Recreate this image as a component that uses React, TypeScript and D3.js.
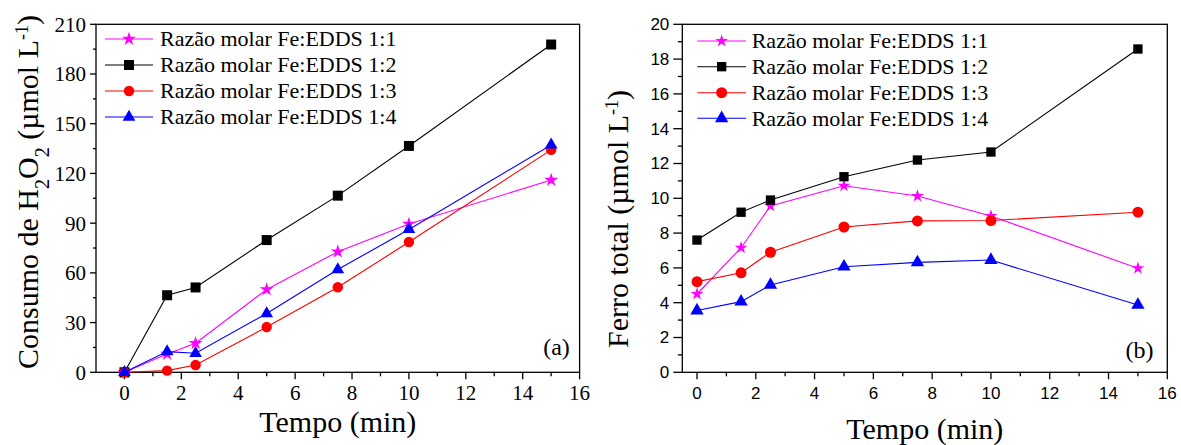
import React from "react";
import * as d3 from "d3";

const times = [0, 1.5, 2.5, 5, 7.5, 10, 15];
const seriesNames = [
  "Razão molar Fe:EDDS 1:1",
  "Razão molar Fe:EDDS 1:2",
  "Razão molar Fe:EDDS 1:3",
  "Razão molar Fe:EDDS 1:4",
];
const seriesColors = ["#FF00FF", "#000000", "#FF0000", "#0000FF"];
const seriesSymbols = ["star", "square", "circle", "triangle"];

// Panel (a): Consumo de H2O2 (µmol L-1)
const h2o2_11 = [0, 11, 17.5, 50, 72.8, 89.5, 116];
const h2o2_12 = [0, 46.5, 51.2, 79.8, 106.6, 136.6, 197.8];
const h2o2_13 = [0, 1, 4.4, 27.3, 51.3, 78.6, 134.2];
const h2o2_14 = [0, 12.5, 11.5, 35.5, 62, 86.2, 137.2];

// Panel (b): Ferro total (µmol L-1)
const fe_11 = [4.5, 7.16, 9.56, 10.72, 10.13, 8.98, 5.98];
const fe_12 = [7.6, 9.2, 9.9, 11.24, 12.2, 12.66, 18.58];
const fe_13 = [5.21, 5.72, 6.9, 8.35, 8.7, 8.72, 9.2];
const fe_14 = [3.55, 4.06, 5.02, 6.07, 6.32, 6.45, 3.87];

const xTicksMajor = [0, 2, 4, 6, 8, 10, 12, 14, 16];
const xTicksMinor = [-1, 1, 3, 5, 7, 9, 11, 13, 15];
const yTicksA = [0, 30, 60, 90, 120, 150, 180, 210];
const yTicksAMinor = [15, 45, 75, 105, 135, 165, 195];
const yTicksB = [0, 2, 4, 6, 8, 10, 12, 14, 16, 18, 20];
const yTicksBMinor = [1, 3, 5, 7, 9, 11, 13, 15, 17, 19];

const SERIF = "'Liberation Serif', 'Times New Roman', serif";
const SANS = "'Liberation Sans', Arial, sans-serif";

function symbolPath(kind: string, size: number) {
  const t =
    kind === "star"
      ? d3.symbolStar
      : kind === "square"
      ? d3.symbolSquare
      : kind === "circle"
      ? d3.symbolCircle
      : d3.symbolTriangle;
  return d3.symbol().type(t).size(size)()!;
}

type PanelProps = {
  left: number;
  right: number;
  top: number;
  bottom: number;
  xDomain: [number, number];
  yDomain: [number, number];
  yTicks: number[];
  yTicksMinor: number[];
  data: number[][];
  sizes: Record<string, number>;
  tickFont: string;
  tickSize: number;
  yTickLen: number;
  yLabelGap: number;
  xLabelY: number;
  legend: { lineX0: number; lineX1: number; textX: number; rows: number[] };
  tag: string;
  tagX: number;
  tagY: number;
  xTitleY: number;
  yTitle: React.ReactNode;
  yTitleX: number;
  yTitleY: number;
};

function Panel(p: PanelProps) {
  const x = d3.scaleLinear().domain(p.xDomain).range([p.left, p.right]);
  const y = d3.scaleLinear().domain(p.yDomain).range([p.bottom, p.top]);
  const line = d3
    .line<number>()
    .x((_, i) => x(times[i]))
    .y((d) => y(d));
  return (
    <g>
      <rect
        x={p.left}
        y={p.top}
        width={p.right - p.left}
        height={p.bottom - p.top}
        fill="none"
        stroke="#000"
        strokeWidth={1.3}
      />
      {xTicksMajor.map((t) => (
        <g key={"xm" + t}>
          <line x1={x(t)} x2={x(t)} y1={p.bottom} y2={p.bottom + 7} stroke="#000" strokeWidth={1.3} />
          <text
            x={x(t)}
            y={p.xLabelY}
            textAnchor="middle"
            fontFamily={p.tickFont}
            fontSize={p.tickSize}
          >
            {t}
          </text>
        </g>
      ))}
      {xTicksMinor
        .filter((t) => t > p.xDomain[0])
        .map((t) => (
          <line key={"xn" + t} x1={x(t)} x2={x(t)} y1={p.bottom} y2={p.bottom + 4} stroke="#000" strokeWidth={1.3} />
        ))}
      {p.yTicks.map((t) => (
        <g key={"ym" + t}>
          <line x1={p.left - p.yTickLen} x2={p.left} y1={y(t)} y2={y(t)} stroke="#000" strokeWidth={1.3} />
          <text
            x={p.left - p.yTickLen - p.yLabelGap}
            y={y(t)}
            dy="0.35em"
            textAnchor="end"
            fontFamily={p.tickFont}
            fontSize={p.tickSize}
          >
            {t}
          </text>
        </g>
      ))}
      {p.yTicksMinor.map((t) => (
        <line key={"yn" + t} x1={p.left - p.yTickLen / 2} x2={p.left} y1={y(t)} y2={y(t)} stroke="#000" strokeWidth={1.3} />
      ))}
      {p.data.map((vals, si) => (
        <g key={"s" + si}>
          <path d={line(vals)!} fill="none" stroke={seriesColors[si]} strokeWidth={1.1} />
          {vals.map((v, i) => (
            <path
              key={i}
              d={symbolPath(seriesSymbols[si], p.sizes[seriesSymbols[si]])}
              transform={`translate(${x(times[i])},${y(v)})`}
              fill={seriesColors[si]}
            />
          ))}
        </g>
      ))}
      {seriesNames.map((name, si) => {
        const ry = p.legend.rows[si];
        return (
          <g key={"l" + si}>
            <line x1={p.legend.lineX0} x2={p.legend.lineX1} y1={ry} y2={ry} stroke={seriesColors[si]} strokeWidth={1.1} />
            <path
              d={symbolPath(seriesSymbols[si], p.sizes[seriesSymbols[si]])}
              transform={`translate(${(p.legend.lineX0 + p.legend.lineX1) / 2},${ry})`}
              fill={seriesColors[si]}
            />
            <text x={p.legend.textX} y={ry} dy="0.33em" fontFamily={SERIF} fontSize={22}>
              {name}
            </text>
          </g>
        );
      })}
      <text x={p.tagX} y={p.tagY} textAnchor="middle" fontFamily={SERIF} fontSize={24}>
        {p.tag}
      </text>
      <text
        x={(p.left + p.right) / 2}
        y={p.xTitleY}
        textAnchor="middle"
        fontFamily={SERIF}
        fontSize={30}
      >
        Tempo (min)
      </text>
      <text
        transform={`translate(${p.yTitleX},${p.yTitleY}) rotate(-90)`}
        textAnchor="middle"
        fontFamily={SERIF}
        fontSize={30}
      >
        {p.yTitle}
      </text>
    </g>
  );
}

export default function App() {
  return (
    <svg
      width={1181}
      height={445}
      style={{ position: "absolute", left: 0, top: 0, background: "#fff" }}
    >
      <rect width={1181} height={445} fill="#fff" />
      <Panel
        left={96}
        right={579.6}
        top={24.3}
        bottom={372.3}
        xDomain={[-1, 16]}
        yDomain={[0, 210]}
        yTicks={yTicksA}
        yTicksMinor={yTicksAMinor}
        data={[h2o2_11, h2o2_12, h2o2_13, h2o2_14]}
        sizes={{ star: 60, square: 100, circle: 85, triangle: 70 }}
        tickFont={SERIF}
        tickSize={21}
        yTickLen={6}
        yLabelGap={4}
        xLabelY={400}
        legend={{ lineX0: 105, lineX1: 153, textX: 160, rows: [39, 65, 91, 117] }}
        tag="(a)"
        tagX={556.5}
        tagY={355}
        xTitleY={432}
        yTitle={
          <>
            Consumo de H
            <tspan baselineShift="sub" fontSize={20}>2</tspan>
            O
            <tspan baselineShift="sub" fontSize={20}>2</tspan>
            {" (µmol L"}
            <tspan baselineShift="super" fontSize={18}>-1</tspan>
            )
          </>
        }
        yTitleX={38}
        yTitleY={192}
      />
      <Panel
        left={682.3}
        right={1167.3}
        top={24.3}
        bottom={372.3}
        xDomain={[-0.5, 16]}
        yDomain={[0, 20]}
        yTicks={yTicksB}
        yTicksMinor={yTicksBMinor}
        data={[fe_11, fe_12, fe_13, fe_14]}
        sizes={{ star: 50, square: 87, circle: 95, triangle: 77 }}
        tickFont={SANS}
        tickSize={17}
        yTickLen={9}
        yLabelGap={4}
        xLabelY={399}
        legend={{ lineX0: 697.3, lineX1: 746, textX: 751.7, rows: [41, 66.7, 92.7, 118.3] }}
        tag="(b)"
        tagX={1139.6}
        tagY={358}
        xTitleY={439}
        yTitle={
          <>
            {"Ferro total (µmol L"}
            <tspan baselineShift="super" fontSize={18}>-1</tspan>
            )
          </>
        }
        yTitleX={628}
        yTitleY={219}
      />
    </svg>
  );
}
